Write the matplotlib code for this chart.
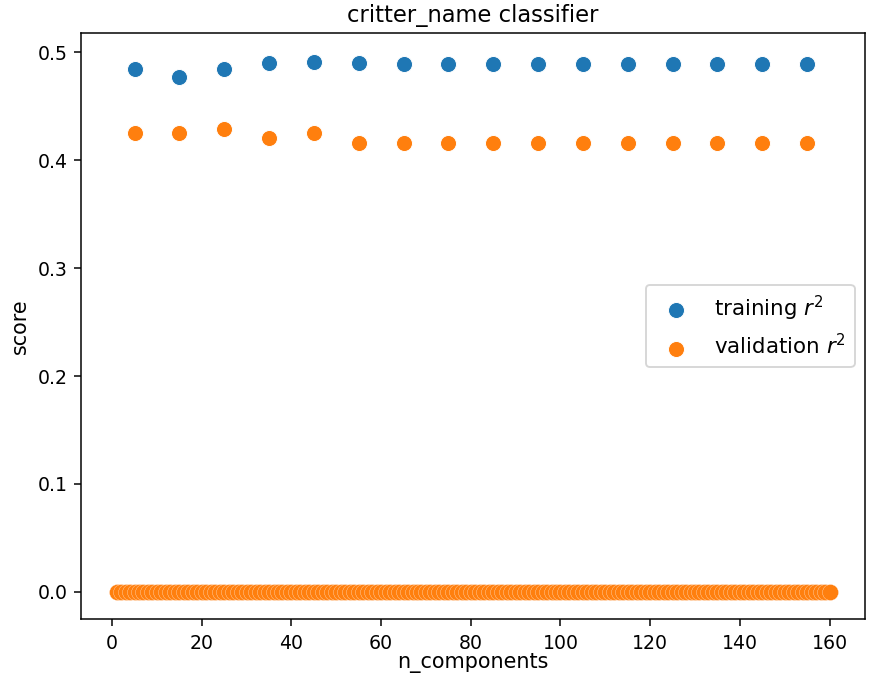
import numpy as np
import matplotlib.pyplot as plt

# n_components tried at the coarse grid
n_components = [5, 15, 25, 35, 45, 55, 65, 75, 85, 95, 105, 115, 125, 135, 145, 155]
train_r2 = [0.485, 0.477, 0.485, 0.490, 0.491, 0.490, 0.489, 0.489,
            0.489, 0.489, 0.489, 0.489, 0.489, 0.489, 0.489, 0.489]
val_r2 = [0.425, 0.425, 0.429, 0.421, 0.425, 0.416, 0.416, 0.416,
          0.416, 0.416, 0.416, 0.416, 0.416, 0.416, 0.416, 0.416]

# fine grid where validation score came back as zero
n_components_all = np.arange(1, 161)
val_r2_all = np.zeros(len(n_components_all))

fig, ax = plt.subplots(figsize=(6.4, 4.956), dpi=136)
ax.scatter(n_components, train_r2, s=72, color='#1f77b4', edgecolors='white',
           linewidths=0.5, label='training $r^2$', zorder=3)
ax.scatter(n_components, val_r2, s=72, color='#ff7f0e', edgecolors='white',
           linewidths=0.5, label='validation $r^2$', zorder=3)
ax.scatter(n_components_all, val_r2_all, s=72, color='#ff7f0e', edgecolors='white',
           linewidths=0.15, zorder=3)

ax.set_ylim(-0.025, 0.518)
ax.set_title('critter_name classifier')
ax.set_xlabel('n_components', fontsize=11, labelpad=0)
ax.set_ylabel('score', fontsize=11)
ax.tick_params(axis='x', pad=4.5)
ax.legend(loc='center right', fontsize=11.3)

fig.subplots_adjust(left=0.093, right=0.994, top=0.951, bottom=0.082)
fig.savefig('out.png', dpi=136)
